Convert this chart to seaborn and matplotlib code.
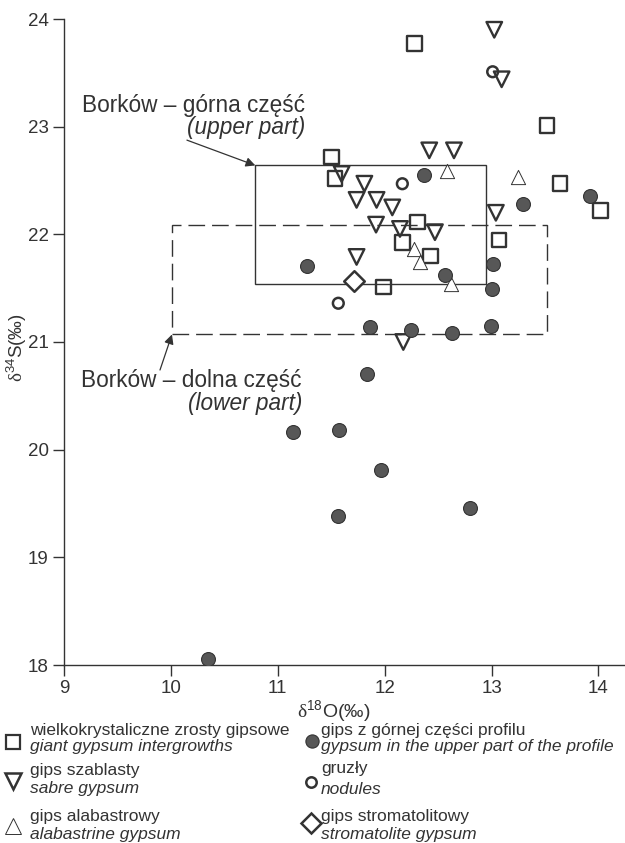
import seaborn as sns
import matplotlib.pyplot as plt
from matplotlib.patches import Rectangle

# wielkokrystaliczne zrosty gipsowe (squares)
kw_x = [12.28, 13.52, 11.50, 13.64, 14.02, 11.535, 12.305, 12.168, 13.069, 12.43, 11.987]
kw_y = [23.77, 23.01, 22.72, 22.47, 22.22, 22.52, 22.116, 21.925, 21.946, 21.80, 21.51]

# gips szablasty (down triangles)
sz_x = [13.025, 13.094, 12.417, 12.648, 11.597, 11.81, 11.737, 11.924, 12.071, 11.919,
        12.143, 12.47, 13.04, 11.737, 12.174]
sz_y = [23.90, 23.44, 22.78, 22.78, 22.56, 22.47, 22.32, 22.32, 22.25, 22.09,
        22.05, 22.02, 22.20, 21.79, 21.00]

# gips alabastrowy (up triangles)
al_x = [12.58, 13.247, 12.277, 12.33, 12.617]
al_y = [22.59, 22.53, 21.86, 21.74, 21.54]

# gips z gornej czesci profilu (filled circles)
gp_x = [12.368, 13.92, 13.297, 11.27, 13.016, 12.564, 13.006, 11.862, 12.246, 12.632,
        12.994, 11.837, 11.575, 11.965, 11.56, 12.80, 11.145, 10.35]
gp_y = [22.553, 22.36, 22.28, 21.71, 21.72, 21.62, 21.49, 21.135, 21.11, 21.085,
        21.147, 20.70, 20.18, 19.81, 19.38, 19.46, 20.165, 18.06]

# gruzly (open circles)
gr_x = [13.01, 12.165, 11.566]
gr_y = [23.51, 22.47, 21.36]

# gips stromatolitowy (diamond)
st_x = [11.716]
st_y = [21.565]

# ramki Borkow
gorna = [10.79, 21.54, 12.945, 22.64]
dolna = [10.01, 21.07, 13.52, 22.09]

ink = '#333333'

sns.set_style('white')
plt.rcParams['font.family'] = ['Liberation Sans', 'DejaVu Sans']
plt.rcParams['mathtext.fontset'] = 'custom'
plt.rcParams['mathtext.rm'] = 'Liberation Serif'
plt.rcParams['mathtext.sf'] = 'Liberation Sans'
plt.rcParams['mathtext.it'] = 'Liberation Sans:italic'

fig = plt.figure(figsize=(6.25, 8.43), dpi=100)
ax = fig.add_axes([64/625, 1 - 665/843, 561/625, 646/843])

sns.scatterplot(x=kw_x, y=kw_y, marker='s', s=110, facecolor='none', edgecolor=ink, linewidth=1.7, ax=ax, zorder=3)
sns.scatterplot(x=sz_x, y=sz_y, marker='v', s=125, facecolor='none', edgecolor=ink, linewidth=1.7, ax=ax, zorder=3)
sns.scatterplot(x=al_x, y=al_y, marker='^', s=105, facecolor='white', edgecolor=ink, linewidth=0.7, ax=ax, zorder=3)
sns.scatterplot(x=gp_x, y=gp_y, marker='o', s=100, color='#575757', edgecolor=ink, linewidth=0.8, ax=ax, zorder=3)
sns.scatterplot(x=gr_x, y=gr_y, marker='o', s=60, facecolor='none', edgecolor=ink, linewidth=1.8, ax=ax, zorder=3)
sns.scatterplot(x=st_x, y=st_y, marker='D', s=110, facecolor='white', edgecolor=ink, linewidth=1.8, ax=ax, zorder=3)

ax.add_patch(Rectangle((gorna[0], gorna[1]), gorna[2] - gorna[0], gorna[3] - gorna[1],
                       fill=False, ec=ink, lw=1.0, zorder=2))
ax.add_patch(Rectangle((dolna[0], dolna[1]), dolna[2] - dolna[0], dolna[3] - dolna[1],
                       fill=False, ec=ink, lw=1.0, ls=(0, (12, 5)), zorder=2))

ax.set_xlim(9, 14.248)
ax.set_ylim(18, 24)
ax.set_xticks([9, 10, 11, 12, 13, 14])
ax.set_yticks([18, 19, 20, 21, 22, 23, 24])
sns.despine(ax=ax)
for s in ['left', 'bottom']:
    ax.spines[s].set_color(ink)
    ax.spines[s].set_linewidth(1.0)
ax.tick_params(direction='out', length=8, width=1.0, color=ink, labelcolor=ink,
               labelsize=13.5, left=True, bottom=True, pad=3)

ax.set_xlabel(r'$\mathrm{\delta}^{\mathsf{18}}$O(‰)', fontsize=14, color=ink)
ax.xaxis.set_label_coords(0.481, -0.052)
ax.set_ylabel(r'$\mathrm{\delta}^{\mathsf{34}}$S(‰)', fontsize=13.5, color=ink)
ax.yaxis.set_label_coords(-0.062, 0.492)

arrow = dict(arrowstyle='-|>', color=ink, lw=0.9, mutation_scale=14, shrinkA=0, shrinkB=0)
ax.text(11.254, 23.20, 'Borków – górna część', ha='right', va='center', fontsize=16.3, color=ink)
ax.text(11.254, 22.99, '(upper part)', ha='right', va='center', fontsize=16.3, style='italic', color=ink)
ax.annotate('', xy=(gorna[0], gorna[3]), xytext=(10.15, 22.875), arrowprops=arrow)
ax.text(11.226, 20.645, 'Borków – dolna część', ha='right', va='center', fontsize=16.3, color=ink)
ax.text(11.226, 20.43, '(lower part)', ha='right', va='center', fontsize=16.3, style='italic', color=ink)
ax.annotate('', xy=(dolna[0], dolna[1]), xytext=(9.898, 20.74), arrowprops=arrow)

# legenda (wspolrzedne w pikselach)
lax = fig.add_axes([0, 0, 1, 1], zorder=-1)
lax.set_xlim(0, 625)
lax.set_ylim(843, 0)
lax.axis('off')

legenda = [
    (13, 742, 30, 's', 10.5, 'none', 1.6, 'wielkokrystaliczne zrosty gipsowe', 'giant gypsum intergrowths', 730, 747),
    (13, 781, 30, 'v', 11.5, 'none', 1.8, 'gips szablasty', 'sabre gypsum', 770, 788),
    (13, 826, 30, '^', 11.0, 'none', 0.7, 'gips alabastrowy', 'alabastrine gypsum', 817, 834),
    (312, 741, 321, 'o', 9.5, '#575757', 0.8, 'gips z górnej części profilu', 'gypsum in the upper part of the profile', 730, 746),
    (311, 782, 321, 'o', 7.5, 'none', 1.8, 'gruzły', 'nodules', 768, 789),
    (311, 823, 321, 'D', 10.0, 'none', 1.8, 'gips stromatolitowy', 'stromatolite gypsum', 817, 834),
]
for mx, my, tx, m, ms, fc, lw, pl, en, y1, y2 in legenda:
    lax.plot([mx], [my], marker=m, ms=ms, mfc=fc, mec=ink, mew=lw, ls='none')
    lax.text(tx, y1, pl, ha='left', va='center', fontsize=12.5, color=ink)
    lax.text(tx, y2, en, ha='left', va='center', fontsize=12.5, style='italic', color=ink)

fig.savefig('out.png', dpi=100)
